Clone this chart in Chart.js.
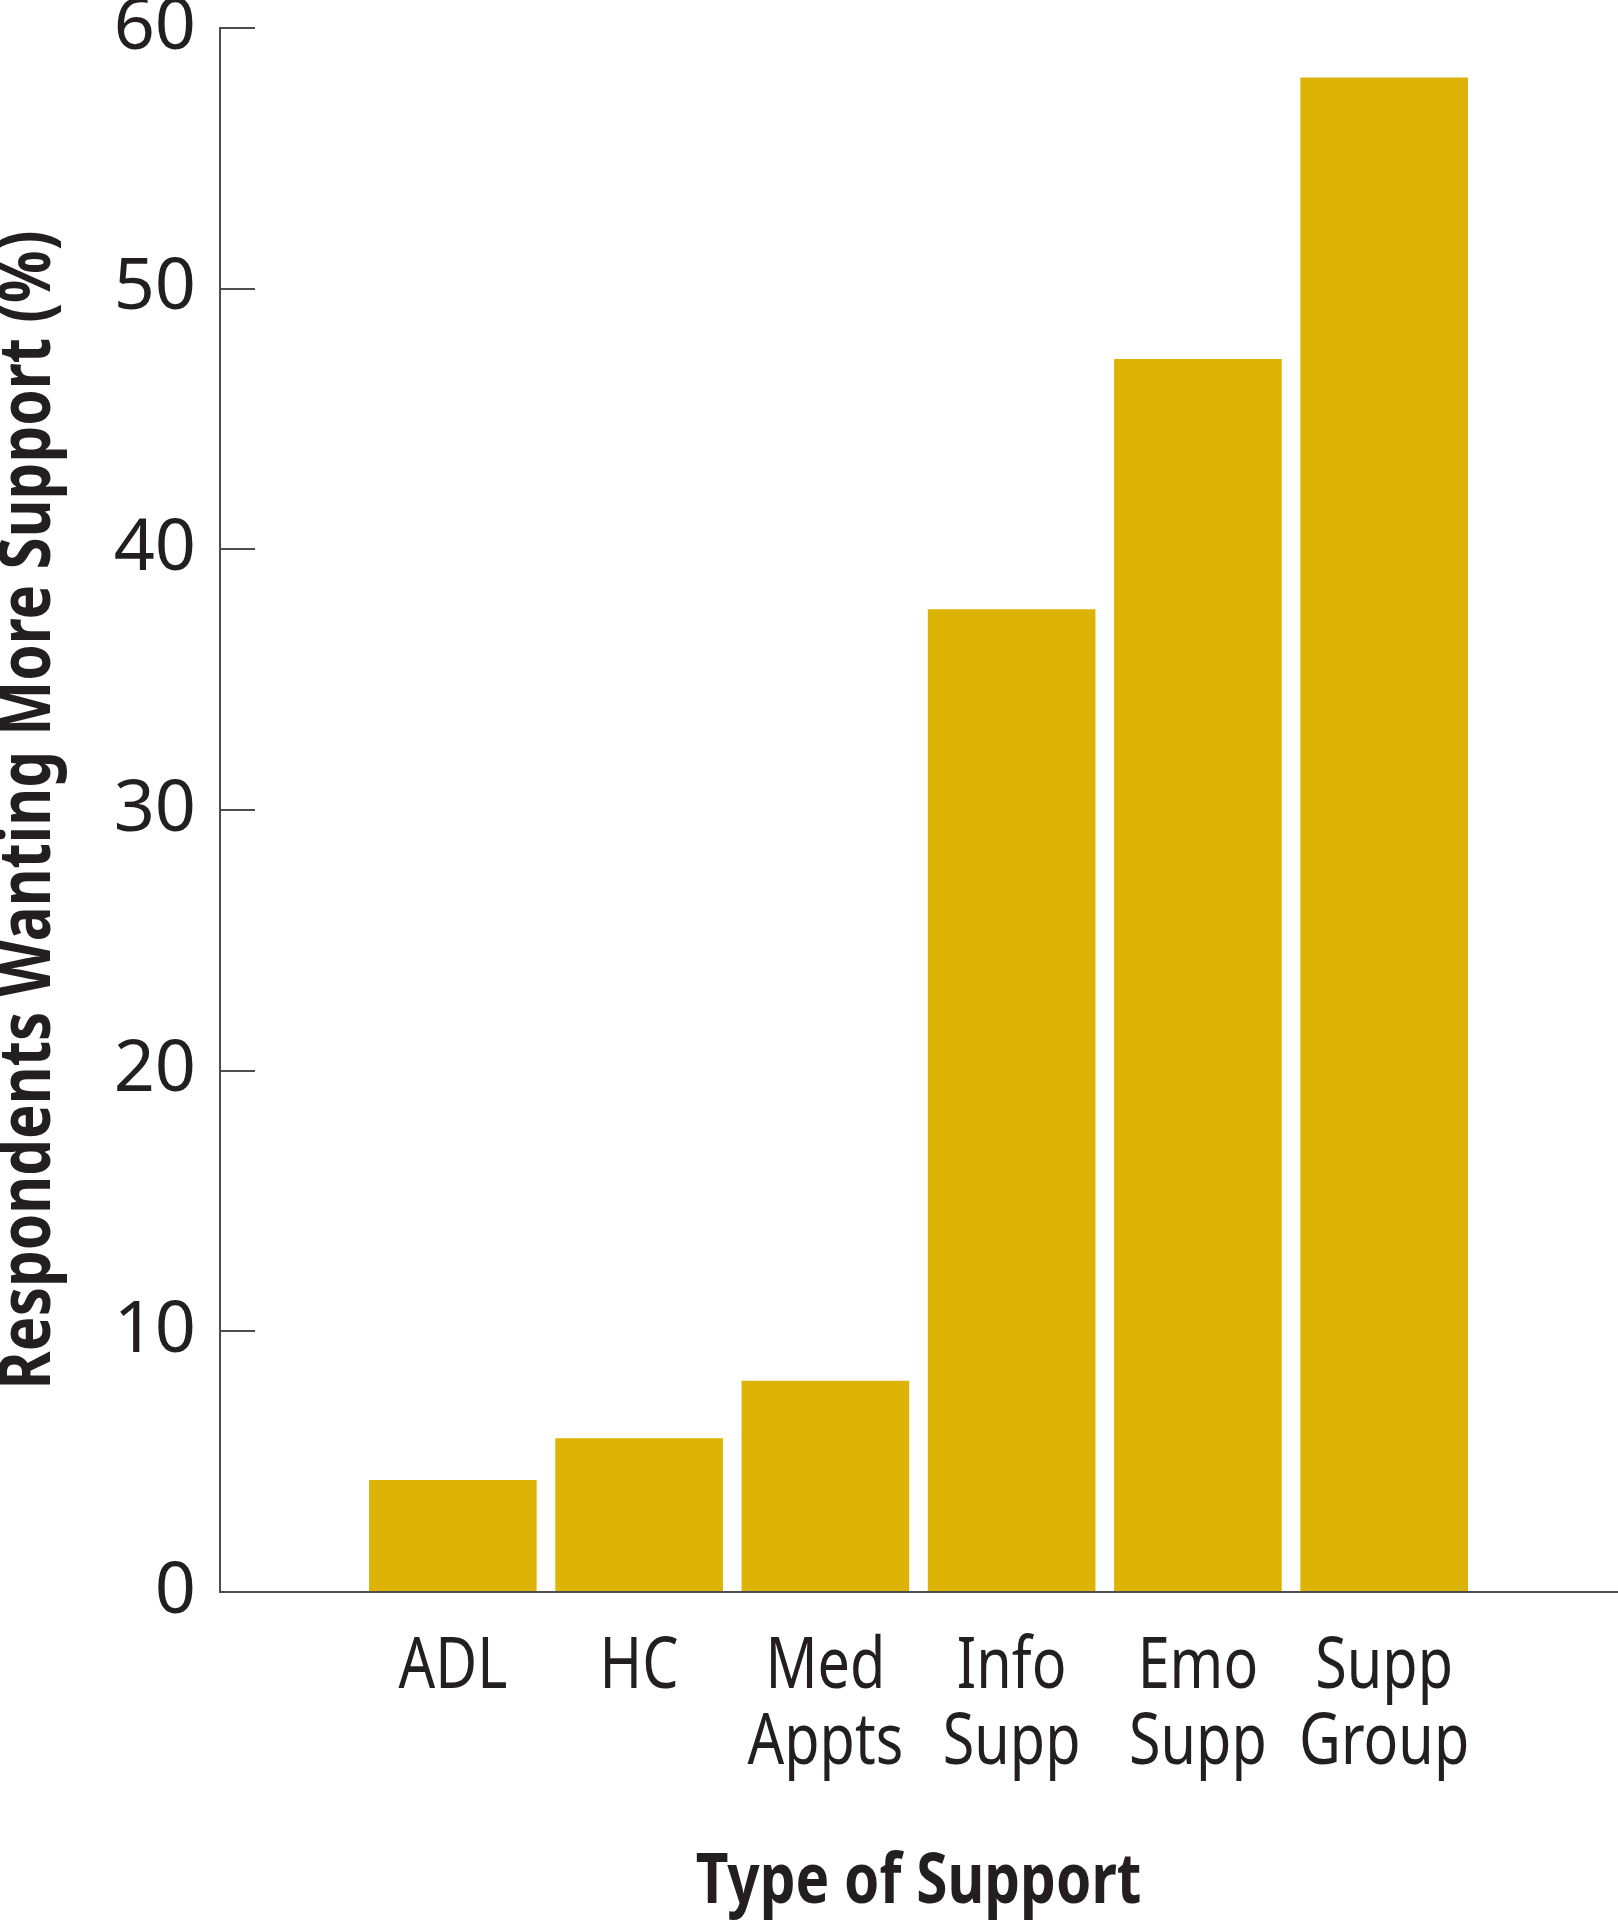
<!DOCTYPE html>
<html>
<head>
<meta charset="utf-8">
<script src="https://cdn.jsdelivr.net/npm/chart.js@4/dist/chart.umd.min.js"></script>
<style>
  html, body { margin: 0; padding: 0; background: #fff; }
  #wrap { width: 1618px; height: 1920px; position: relative; }
</style>
</head>
<body>
<div id="wrap"><canvas id="supportChart"></canvas></div>
<script>
// 支援の種類ごとの割合
const categories = ['ADL', 'HC', 'Med Appts', 'Info Supp', 'Emo Supp', 'Supp Group'];
const percentWanting = [4.3, 5.9, 8.1, 37.7, 47.3, 58.1];
const yTicks = [0, 10, 20, 30, 40, 50, 60];

const FONT = '"Noto Sans", "DejaVu Sans", sans-serif';
const INK = '#231f20';
const AXIS = '#4d4d4d';
const BAR = '#ddb406';
const CONDENSE = 0.81; // 長体（コンデンス書体の代わり）、数字はそのまま

// 文字を横方向に詰めて描く
const condensedText = {
    id: 'condensedText',
    beforeDraw(chart) {
        const ctx = chart.ctx;
        if (ctx.__condensed) return;
        const plain = CanvasRenderingContext2D.prototype.fillText;
        ctx.fillText = function (text, x, y, maxWidth) {
            const f = /^[0-9]+$/.test(String(text)) ? 1 : CONDENSE;
            this.save();
            this.translate(x, y);
            this.scale(f, 1);
            if (maxWidth === undefined) {
                plain.call(this, text, 0, 0);
            } else {
                plain.call(this, text, 0, 0, maxWidth / f);
            }
            this.restore();
        };
        ctx.__condensed = true;
    }
};

// y軸の内向きの目盛り線
const innerTicks = {
    id: 'innerTicks',
    afterDraw(chart) {
        const y = chart.scales.y;
        const ctx = chart.ctx;
        ctx.save();
        ctx.strokeStyle = AXIS;
        ctx.lineWidth = 2;
        y.ticks.forEach((t, i) => {
            const py = Math.round(y.getPixelForTick(i));
            ctx.beginPath();
            ctx.moveTo(y.right, py);
            ctx.lineTo(y.right + 35, py);
            ctx.stroke();
        });
        ctx.restore();
    }
};

new Chart(document.getElementById('supportChart'), {
    type: 'bar',
    data: {
        datasets: [{
            data: percentWanting.map((v, i) => ({ x: i, y: v })),
            backgroundColor: BAR,
            borderWidth: 0,
            barPercentage: 0.9,
            categoryPercentage: 1
        }]
    },
    options: {
        responsive: true,
        maintainAspectRatio: false,
        animation: false,
        layout: { autoPadding: false, padding: { top: 28, right: 1, bottom: 0, left: 0 } },
        plugins: { legend: { display: false }, tooltip: { enabled: false } },
        scales: {
            x: {
                type: 'linear',
                bounds: 'data',
                offset: false,
                min: -1.25,
                max: 6.25,
                afterBuildTicks: s => { s.ticks = categories.map((c, i) => ({ value: i })); },
                afterFit: s => {
                    s.height = 328;
                    s.paddingLeft = 0;
                    s.paddingRight = 0;
                },
                grid: { display: false, drawTicks: false },
                border: { display: true, color: AXIS, width: 2, z: 1 },
                ticks: {
                    autoSkip: false,
                    maxRotation: 0,
                    padding: 38,
                    color: INK,
                    font: { family: FONT, size: 71, lineHeight: 1.07 },
                    callback: v => categories[v].split(' ')
                },
                title: {
                    display: true,
                    text: 'Type of Support',
                    color: INK,
                    font: { family: FONT, size: 70, weight: 'bold', lineHeight: 1 },
                    padding: { top: 0, bottom: 2 }
                }
            },
            y: {
                min: 0,
                max: 60,
                afterBuildTicks: s => { s.ticks = yTicks.map(v => ({ value: v })); },
                afterFit: s => {
                    s.width = 220;
                    s.paddingTop = 0;
                    s.paddingBottom = 0;
                },
                grid: { display: false, drawTicks: false },
                border: { display: true, color: AXIS, width: 2, z: 1 },
                ticks: { padding: 24, color: INK, font: { family: FONT, size: 72 } },
                title: {
                    display: true,
                    text: 'Respondents Wanting More Support (%)',
                    color: INK,
                    font: { family: FONT, size: 72, weight: 'bold', lineHeight: 0.72 },
                    padding: { top: 4, bottom: 0 }
                }
            }
        }
    },
    plugins: [condensedText, innerTicks]
});
</script>
</body>
</html>
